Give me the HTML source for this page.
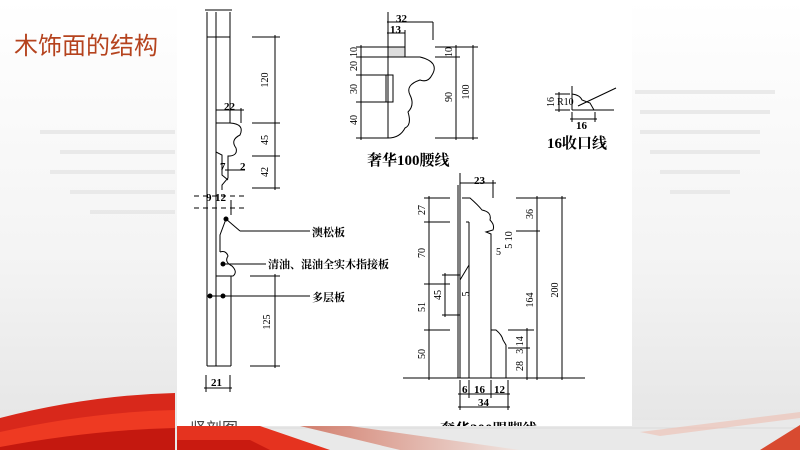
<!DOCTYPE html>
<html><head><meta charset="utf-8"><style>
html,body{margin:0;padding:0}
body{width:800px;height:450px;overflow:hidden;background:linear-gradient(180deg,#ffffff 0%,#f3f3f3 60%,#e4e4e4 100%);position:relative;font-family:"Liberation Serif","Noto Serif CJK SC",serif}
svg{position:absolute;left:0;top:0}
</style></head><body>
<svg width="800" height="450" viewBox="0 0 800 450" xmlns="http://www.w3.org/2000/svg">
<defs>
<linearGradient id="st" x1="0" y1="0" x2="1" y2="0"><stop offset="0" stop-color="#c9523a"/><stop offset="1" stop-color="#f2e2dc"/></linearGradient>
</defs>
<g fill="#e6e6e6" opacity="0.8">
<rect x="40" y="130" width="135" height="4"/><rect x="60" y="150" width="115" height="4"/><rect x="50" y="170" width="125" height="4"/><rect x="70" y="190" width="105" height="4"/><rect x="90" y="210" width="85" height="4"/>
<rect x="635" y="90" width="140" height="4"/><rect x="640" y="110" width="130" height="4"/><rect x="640" y="130" width="120" height="4"/><rect x="650" y="150" width="110" height="4"/><rect x="660" y="170" width="80" height="4"/><rect x="670" y="190" width="60" height="4"/>
</g>
<!-- floor -->
<rect x="0" y="420" width="800" height="30" fill="#e9e9e9"/>
<line x1="0" y1="428" x2="800" y2="428" stroke="#dadada"/>
<!-- red swooshes -->
<path d="M0 418 Q90 395 175 393 L175 450 L0 450Z" fill="#d8281b"/>
<path d="M0 432 Q90 412 175 410 L175 450 L0 450Z" fill="#ee3a22"/>
<path d="M0 447 Q90 430 175 428 L175 450 L0 450Z" fill="#c4180f"/>
<path d="M177 426 L260 426 L330 450 L177 450Z" fill="#e5331f"/>
<path d="M177 440 L250 440 L270 450 L177 450Z" fill="#c91a10"/>
<path d="M300 426 L350 426 L520 450 L400 450Z" fill="url(#st)" opacity="0.7"/>
<path d="M760 450 L800 425 L800 450Z" fill="#d84a30"/>
<path d="M640 432 L800 412 L800 418 L660 436Z" fill="#ecc3b8" opacity="0.7"/>
<!-- panel -->
<rect x="177" y="0" width="455" height="426" fill="#fff"/>
<text x="14" y="54" font-family="Liberation Sans,'Noto Sans CJK SC',sans-serif" font-size="24" fill="#b5431e">木饰面的结构</text>
<g stroke="#000" stroke-width="1" fill="none">
<line x1="207" y1="12" x2="207" y2="366"/><line x1="216" y1="12" x2="216" y2="366"/><line x1="230" y1="12" x2="230" y2="37"/>
<line x1="207" y1="37" x2="230" y2="37"/><line x1="230" y1="37" x2="230" y2="123"/>
<line x1="216" y1="123" x2="230" y2="123"/>
<path d="M230 123 Q245 124 240 135 Q230 140 236 148 Q238 155 230 156 L228 156 L228 178 L222 185 L222 190"/>
<path d="M216 152 L222 155 L222 175 L228 180"/>
<line x1="205" y1="10" x2="232" y2="10"/>
<line x1="252" y1="37" x2="280" y2="37"/><line x1="275" y1="35" x2="275" y2="190"/>
<line x1="252" y1="123" x2="280" y2="123"/><line x1="252" y1="156" x2="280" y2="156"/><line x1="252" y1="188" x2="280" y2="188"/>
<line x1="216" y1="110" x2="244" y2="110"/><line x1="241" y1="108" x2="241" y2="123"/>
<line x1="225" y1="170" x2="245" y2="170"/>
<g stroke-dasharray="5,4"><line x1="194" y1="196" x2="246" y2="196"/><line x1="194" y1="208" x2="246" y2="208"/></g>
<line x1="231" y1="200" x2="231" y2="215"/>
<path d="M226 219 L220 235 L220 252"/>
<path d="M220 252 Q226 250 228 256 Q224 262 232 266 Q238 272 233 276 L231 276"/>
<line x1="216" y1="276" x2="231" y2="276"/><line x1="231" y1="276" x2="231" y2="366"/>
<line x1="207" y1="366" x2="231" y2="366"/>
<line x1="226" y1="219" x2="240" y2="231"/><line x1="240" y1="231" x2="310" y2="231"/>
<line x1="223" y1="264" x2="266" y2="264"/>
<line x1="210" y1="296" x2="310" y2="296"/>
<line x1="250" y1="276" x2="280" y2="276"/><line x1="275" y1="274" x2="275" y2="368"/><line x1="250" y1="366" x2="280" y2="366"/>
<line x1="206" y1="375" x2="206" y2="392"/><line x1="230" y1="375" x2="230" y2="392"/><line x1="204" y1="388" x2="232" y2="388"/>
<line x1="388" y1="12" x2="388" y2="138"/>
<line x1="387" y1="22" x2="433" y2="22"/><line x1="433" y1="22" x2="433" y2="40"/>
<line x1="387" y1="33" x2="405" y2="33"/><line x1="405" y1="30" x2="405" y2="47"/>
<rect x="388" y="47" width="17" height="10" fill="#ddd"/>
<path d="M388 57 L420 57 Q440 62 432 75 Q428 83 420 80 Q405 85 410 95 Q415 105 408 112 Q412 125 405 128 Q400 138 388 138"/>
<rect x="386" y="75" width="7" height="27"/>
<line x1="356" y1="47" x2="388" y2="47"/><line x1="356" y1="57" x2="388" y2="57"/><line x1="356" y1="75" x2="388" y2="75"/><line x1="356" y1="102" x2="388" y2="102"/><line x1="356" y1="138" x2="388" y2="138"/>
<line x1="361" y1="45" x2="361" y2="140"/>
<line x1="435" y1="47" x2="478" y2="47"/><line x1="435" y1="57" x2="460" y2="57"/><line x1="435" y1="138" x2="478" y2="138"/>
<line x1="456" y1="45" x2="456" y2="140"/><line x1="473" y1="45" x2="473" y2="140"/>
<line x1="572" y1="86" x2="572" y2="110"/><line x1="572" y1="110" x2="614" y2="110"/>
<path d="M572 94 Q580 95 582 100 L590 103 L594 110"/>
<line x1="578" y1="106" x2="616" y2="88"/>
<line x1="555" y1="94" x2="570" y2="94"/><line x1="555" y1="110" x2="570" y2="110"/><line x1="559" y1="92" x2="559" y2="112"/>
<line x1="572" y1="112" x2="572" y2="122"/><line x1="595" y1="112" x2="595" y2="122"/><line x1="570" y1="119" x2="597" y2="119"/>
<line x1="460" y1="173" x2="460" y2="378"/><line x1="458" y1="185" x2="458" y2="378"/>
<line x1="460" y1="183" x2="496" y2="183"/><line x1="493" y1="180" x2="493" y2="198"/>
<path d="M462 198 L470 198 Q478 205 482 210 Q492 212 490 220 Q495 225 493 230 L486 232 L491 234 L491 378"/>
<path d="M469 222 L469 378"/><path d="M466 222 L469 222"/>
<path d="M460 280 L469 265 L469 300"/>
<path d="M491 330 L496 330 Q502 335 503 340 L506 345 L506 378"/>
<line x1="403" y1="378" x2="585" y2="378"/>
<line x1="424" y1="198" x2="450" y2="198"/><line x1="424" y1="222" x2="450" y2="222"/><line x1="424" y1="284" x2="450" y2="284"/><line x1="424" y1="330" x2="450" y2="330"/>
<line x1="429" y1="196" x2="429" y2="380"/>
<line x1="442" y1="275" x2="460" y2="275"/><line x1="442" y1="315" x2="460" y2="315"/><line x1="445" y1="273" x2="445" y2="317"/>
<line x1="516" y1="198" x2="566" y2="198"/><line x1="516" y1="231" x2="540" y2="231"/>
<line x1="537" y1="196" x2="537" y2="380"/><line x1="562" y1="196" x2="562" y2="380"/>
<line x1="508" y1="330" x2="534" y2="330"/><line x1="508" y1="348" x2="530" y2="348"/>
<line x1="527" y1="328" x2="527" y2="380"/>
<line x1="460" y1="380" x2="460" y2="410"/><line x1="469" y1="380" x2="469" y2="398"/><line x1="491" y1="380" x2="491" y2="398"/><line x1="508" y1="380" x2="508" y2="410"/>
<line x1="458" y1="394" x2="510" y2="394"/><line x1="458" y1="407" x2="510" y2="407"/>
</g>
<g fill="#000"><circle cx="226" cy="219" r="2.5"/><circle cx="223" cy="264" r="2.5"/><circle cx="210" cy="296" r="2.5"/><circle cx="223" cy="296" r="2.5"/></g>
<g font-size="11" font-weight="bold" fill="#000">
<text x="224" y="110">22</text><text x="220" y="170">7</text><text x="240" y="170">2</text>
<text x="206" y="201">9</text><text x="215" y="201">12</text>
<text x="211" y="386">21</text>
<text x="396" y="22">32</text><text x="390" y="33">13</text>
<text x="474" y="184">23</text>
<text x="462" y="393">6</text><text x="474" y="393">16</text><text x="494" y="393">12</text>
<text x="478" y="406">34</text>
<text x="576" y="129">16</text>
</g>
<g font-size="10" fill="#000" font-family="Liberation Serif,serif">
<text transform="translate(268,80) rotate(-90)" text-anchor="middle">120</text>
<text transform="translate(268,140) rotate(-90)" text-anchor="middle">45</text>
<text transform="translate(268,172) rotate(-90)" text-anchor="middle">42</text>
<text transform="translate(270,322) rotate(-90)" text-anchor="middle">125</text>
<text transform="translate(357,52) rotate(-90)" text-anchor="middle">10</text>
<text transform="translate(357,66) rotate(-90)" text-anchor="middle">20</text>
<text transform="translate(357,89) rotate(-90)" text-anchor="middle">30</text>
<text transform="translate(357,120) rotate(-90)" text-anchor="middle">40</text>
<text transform="translate(452,52) rotate(-90)" text-anchor="middle">10</text>
<text transform="translate(452,97) rotate(-90)" text-anchor="middle">90</text>
<text transform="translate(469,92) rotate(-90)" text-anchor="middle">100</text>
<text transform="translate(425,210) rotate(-90)" text-anchor="middle">27</text>
<text transform="translate(425,253) rotate(-90)" text-anchor="middle">70</text>
<text transform="translate(441,295) rotate(-90)" text-anchor="middle">45</text>
<text transform="translate(425,307) rotate(-90)" text-anchor="middle">51</text>
<text transform="translate(425,354) rotate(-90)" text-anchor="middle">50</text>
<text transform="translate(533,214) rotate(-90)" text-anchor="middle">36</text>
<text transform="translate(512,240) rotate(-90)" text-anchor="middle">5 10</text>
<text transform="translate(533,300) rotate(-90)" text-anchor="middle">164</text>
<text transform="translate(558,290) rotate(-90)" text-anchor="middle">200</text>
<text transform="translate(523,345) rotate(-90)" text-anchor="middle">3 14</text>
<text transform="translate(523,366) rotate(-90)" text-anchor="middle">28</text>
<text transform="translate(469,294) rotate(-90)" text-anchor="middle">5</text>
<text x="496" y="255">5</text>
<text x="557" y="105">R10</text>
<text transform="translate(554,102) rotate(-90)" text-anchor="middle">16</text>
</g>
<g font-size="11" font-weight="bold" fill="#000" font-family="Liberation Serif,'Noto Serif CJK SC',serif">
<text x="312" y="236">澳松板</text>
<text x="268" y="268">清油、混油全实木指接板</text>
<text x="312" y="301">多层板</text>
</g>
<g font-size="15" font-weight="bold" fill="#000" font-family="Liberation Serif,'Noto Serif CJK SC',serif">
<text x="367" y="165">奢华100腰线</text>
<text x="547" y="148">16收口线</text>
</g>
<svg x="177" y="0" width="455" height="426" overflow="hidden">
<text x="263" y="434" font-size="15" font-weight="bold" fill="#000" font-family="Liberation Serif,'Noto Serif CJK SC',serif">奢华200踢脚线</text>
<text x="13" y="434" font-size="16" fill="#444" font-family="Liberation Sans,'Noto Sans CJK SC',sans-serif">竖剖图</text>
</svg>
</svg>
</body></html>
